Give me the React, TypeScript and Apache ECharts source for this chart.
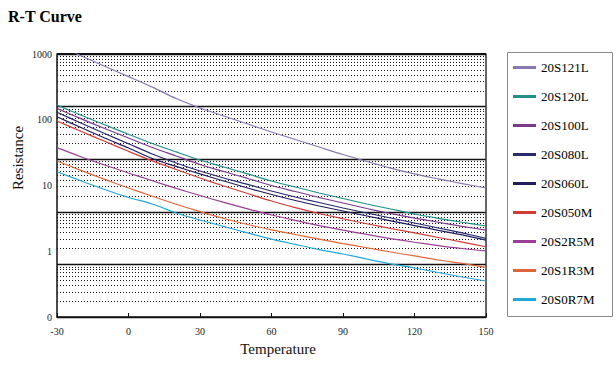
import React, { useEffect, useRef } from "react";
import * as echarts from "echarts";

const temps = [-30, -20, -10, 0, 10, 20, 30, 40, 50, 60, 70, 80, 90, 100, 110, 120, 130, 140, 150];
const seriesNames = ["20S121L", "20S120L", "20S100L", "20S080L", "20S060L", "20S050M", "20S2R5M", "20S1R3M", "20S0R7M"];
const seriesColors = ["#8a78b0", "#1f8f88", "#7d3a8c", "#2a2a6c", "#201d5c", "#d23b36", "#9a3f95", "#e0663a", "#22a8d8"];

const r20S121L = [1390, 942, 650, 452, 313, 210, 151, 114, 86.1, 65.2, 50.1, 38.5, 29.6, 23.2, 18.4, 15.0, 12.6, 10.7, 9.16];
const r20S120L = [167, 118, 83.8, 60.1, 43.5, 32.4, 24.4, 19.1, 15.0, 11.7, 9.48, 7.69, 6.34, 5.23, 4.39, 3.69, 3.17, 2.76, 2.42];
const r20S100L = [149, 104, 73.6, 52.8, 37.8, 28.1, 20.9, 16.3, 12.8, 10.0, 8.11, 6.57, 5.42, 4.47, 3.75, 3.2, 2.76, 2.39, 2.1];
const r20S080L = [130, 89.3, 61.8, 43.1, 30.1, 22.0, 16.6, 13.0, 10.4, 8.24, 6.68, 5.51, 4.55, 3.82, 3.2, 2.69, 2.26, 1.9, 1.57];
const r20S060L = [111, 76.2, 52.8, 37.2, 25.7, 19.5, 15.0, 11.7, 9.16, 7.3, 5.91, 4.88, 4.09, 3.44, 2.9, 2.46, 2.08, 1.77, 1.48];
const r20S050M = [95.7, 66.7, 47.0, 33.1, 23.7, 17.5, 13.0, 9.82, 7.55, 5.81, 4.62, 3.75, 3.12, 2.62, 2.22, 1.9, 1.62, 1.38, 1.17];
const r20S2R5M = [37.6, 27.4, 20.5, 15.5, 11.8, 9.06, 7.04, 5.55, 4.42, 3.56, 2.94, 2.46, 2.09, 1.8, 1.56, 1.37, 1.22, 1.1, 1.01];
const r20S1R3M = [23.6, 17.0, 12.4, 9.16, 6.85, 5.18, 4.0, 3.15, 2.55, 2.12, 1.8, 1.53, 1.31, 1.13, 0.975, 0.848, 0.736, 0.652, 0.57];
const r20S0R7M = [16.2, 11.8, 8.69, 6.57, 5.23, 3.82, 2.99, 2.38, 1.9, 1.53, 1.27, 1.06, 0.908, 0.762, 0.644, 0.556, 0.475, 0.406, 0.353];

const seriesValues = [r20S121L, r20S120L, r20S100L, r20S080L, r20S060L, r20S050M, r20S2R5M, r20S1R3M, r20S0R7M];

const xTicks = [-30, 0, 30, 60, 90, 120, 150];
const yLabelTicks = [0.1, 1, 10, 100, 1000];

const SERIF = "'Liberation Serif', 'Times New Roman', serif";

export default function App() {
  const ref = useRef<HTMLDivElement>(null);

  useEffect(() => {
    if (!ref.current) return;
    const chart = echarts.init(ref.current, undefined, { renderer: "svg" });

    // dotted minor grid values on the 5-decade background axis
    const minorValues: number[] = [];
    for (let k = 0; k < 5; k++) {
      for (let m = 2; m <= 9; m++) minorValues.push(m * Math.pow(10, k));
    }

    const dataSeries = seriesNames.map((name, i) => ({
      name,
      type: "line",
      xAxisIndex: 0,
      yAxisIndex: 0,
      data: temps.map((t, j) => [t, seriesValues[i][j]]),
      smooth: 0.3,
      showSymbol: false,
      symbol: "none",
      clip: true,
      z: 5,
      lineStyle: { color: seriesColors[i], width: 1.2 },
      itemStyle: { color: seriesColors[i] },
    }));

    const option: any = {
      animation: false,
      backgroundColor: "#ffffff",
      title: {
        text: "R-T Curve",
        left: 3,
        top: 3,
        textStyle: { fontFamily: SERIF, fontSize: 16, fontWeight: "bold", color: "#000" },
      },
      grid: { left: 57, right: 129, top: 54, bottom: 55, containLabel: false },
      legend: {
        orient: "vertical",
        left: 513,
        top: 61,
        itemWidth: 23,
        itemHeight: 3,
        itemGap: 16,
        padding: 0,
        icon: "rect",
        data: seriesNames,
        textStyle: { fontFamily: SERIF, fontSize: 13, color: "#000" },
      },
      xAxis: [
        {
          type: "value",
          min: -30,
          max: 150,
          interval: 30,
          axisLine: { show: true, onZero: false, lineStyle: { color: "#111", width: 1.5 } },
          axisTick: { show: true, inside: true, length: 4, lineStyle: { color: "#111" } },
          axisLabel: {
            color: "#222",
            fontFamily: SERIF,
            fontSize: 10,
            margin: 9,
            customValues: xTicks,
          },
          splitLine: { show: false },
        },
      ],
      yAxis: [
        {
          type: "log",
          logBase: 10,
          min: 0.1,
          max: 1000,
          splitNumber: 4,
          position: "left",
          axisLine: { show: true, onZero: false, lineStyle: { color: "#111", width: 1.5 } },
          axisTick: { show: false },
          axisLabel: {
            color: "#222",
            fontFamily: SERIF,
            fontSize: 10,
            margin: 5,
            customValues: yLabelTicks,
            formatter: (v: number) => (v < 1 ? "0" : String(Math.round(v))),
          },
          splitLine: { show: false },
        },
        {
          type: "log",
          logBase: 10,
          min: 1,
          max: 100000,
          splitNumber: 5,
          position: "right",
          axisLine: { show: true, onZero: false, lineStyle: { color: "#333", width: 1.5 } },
          axisTick: { show: false },
          axisLabel: { show: false },
          splitLine: { show: true, lineStyle: { color: "#111", width: 1.3 } },
        },
      ],
      graphic: [
        {
          type: "text",
          x: 18,
          y: 158,
          rotation: Math.PI / 2,
          style: {
            text: "Resistance",
            fontFamily: SERIF,
            fontSize: 15,
            fill: "#111",
            align: "center",
            verticalAlign: "middle",
          },
        },
        {
          type: "text",
          x: 278,
          y: 349,
          style: {
            text: "Temperature",
            fontFamily: SERIF,
            fontSize: 15,
            fill: "#111",
            align: "center",
            verticalAlign: "middle",
          },
        },
        {
          type: "rect",
          shape: { x: 507.5, y: 52.5, width: 105, height: 264 },
          style: { fill: "none", stroke: "#8a8a8a", lineWidth: 1 },
        },
      ],
      series: [
        {
          name: "grid-minor",
          type: "line",
          xAxisIndex: 0,
          yAxisIndex: 1,
          data: [],
          silent: true,
          z: 1,
          markLine: {
            silent: true,
            symbol: ["none", "none"],
            label: { show: false },
            lineStyle: { color: "#111", width: 1, type: [1, 2] },
            data: minorValues.map((v) => ({ yAxis: v })),
          },
        },
        {
          name: "grid-top",
          type: "line",
          xAxisIndex: 0,
          yAxisIndex: 1,
          data: [],
          silent: true,
          z: 1,
          markLine: {
            silent: true,
            symbol: ["none", "none"],
            label: { show: false },
            lineStyle: { color: "#111", width: 2, type: "solid" },
            data: [{ yAxis: 100000 }],
          },
        },
        ...dataSeries,
      ],
    };

    chart.setOption(option);
    return () => chart.dispose();
  }, []);

  return (
    <div
      ref={ref}
      style={{ position: "fixed", left: 0, top: 0, width: 615, height: 372, background: "#fff" }}
    />
  );
}
